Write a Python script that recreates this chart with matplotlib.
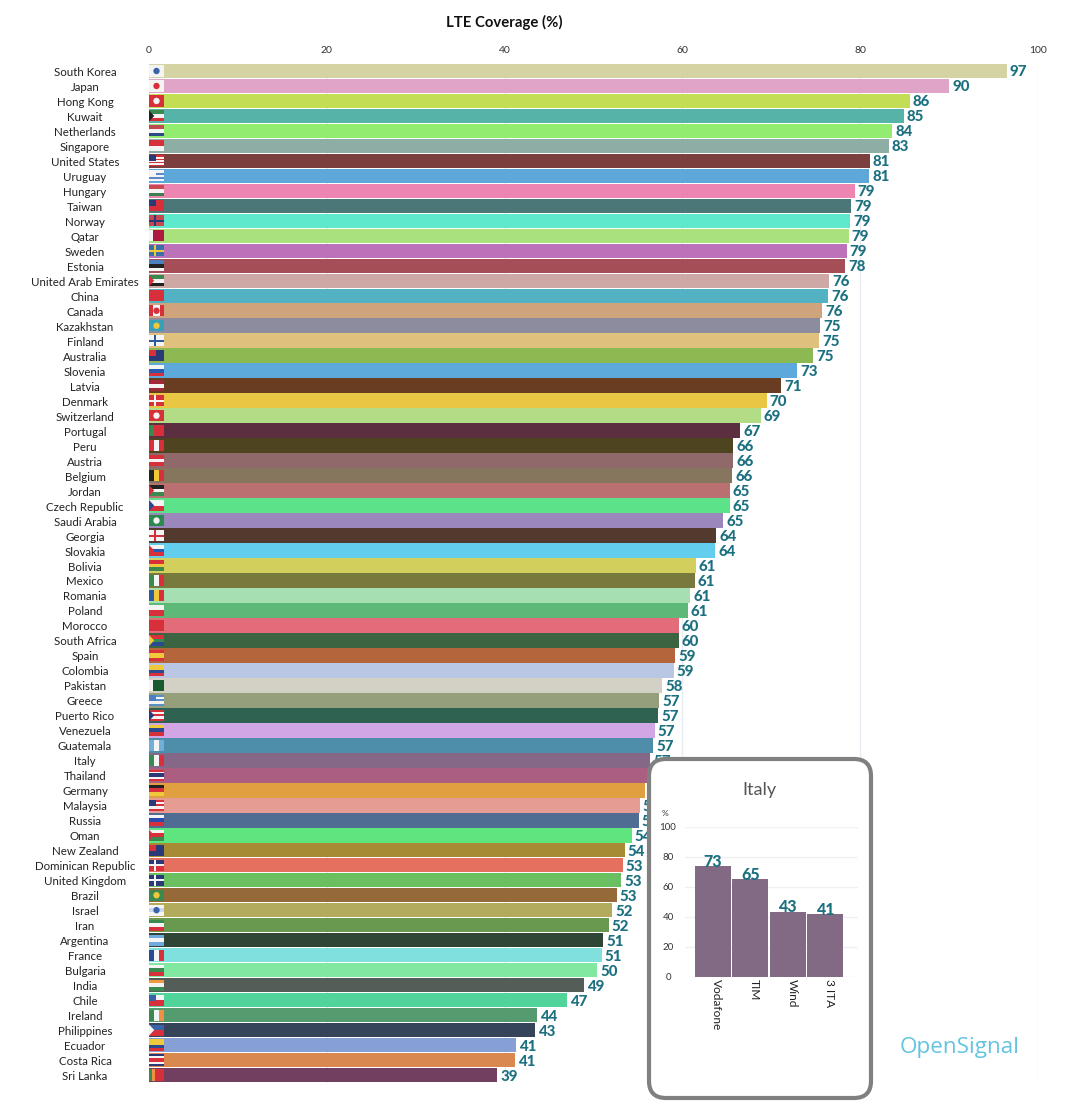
import matplotlib
matplotlib.use('Agg')
import matplotlib.pyplot as plt
from matplotlib.patches import Rectangle, FancyBboxPatch, Polygon, Ellipse

plt.rcParams['font.family'] = ['Lato', 'DejaVu Sans']

countries = ["South Korea","Japan","Hong Kong","Kuwait","Netherlands","Singapore","United States","Uruguay","Hungary","Taiwan","Norway","Qatar","Sweden","Estonia","United Arab Emirates","China","Canada","Kazakhstan","Finland","Australia","Slovenia","Latvia","Denmark","Switzerland","Portugal","Peru","Austria","Belgium","Jordan","Czech Republic","Saudi Arabia","Georgia","Slovakia","Bolivia","Mexico","Romania","Poland","Morocco","South Africa","Spain","Colombia","Pakistan","Greece","Puerto Rico","Venezuela","Guatemala","Italy","Thailand","Germany","Malaysia","Russia","Oman","New Zealand","Dominican Republic","United Kingdom","Brazil","Israel","Iran","Argentina","France","Bulgaria","India","Chile","Ireland","Philippines","Ecuador","Costa Rica","Sri Lanka"]
coverage = [96.5,90.0,85.6,84.9,83.6,83.2,81.1,81.0,79.4,79.0,78.9,78.7,78.5,78.3,76.5,76.4,75.7,75.5,75.4,74.7,72.9,71.1,69.5,68.8,66.5,65.7,65.7,65.6,65.3,65.3,64.6,63.8,63.7,61.5,61.4,60.9,60.6,59.6,59.6,59.2,59.0,57.7,57.4,57.3,56.9,56.7,56.4,56.1,55.8,55.2,55.1,54.3,53.5,53.3,53.1,52.6,52.1,51.7,51.1,50.9,50.4,48.9,47.0,43.7,43.4,41.3,41.2,39.2]
shown = [97,90,86,85,84,83,81,81,79,79,79,79,79,78,76,76,76,75,75,75,73,71,70,69,67,66,66,66,65,65,65,64,64,61,61,61,61,60,60,59,59,58,57,57,57,57,57,56,56,55,55,54,54,53,53,53,52,52,51,51,50,49,47,44,43,41,41,39]
bar_colors = ["#d3d3a3","#e0a4c9","#c3dd55","#56b3a8","#92ec6f","#8dada5","#7b3f3d","#5ea8d9","#ec85b0","#4b7778","#5ee9cc","#a9e27d","#bc72b8","#a64e58","#cda8a4","#53b1c4","#cfa37b","#8c8c9e","#e0c07d","#8cb951","#5ea9dc","#683d22","#e9c744","#b2dc85","#5b2f3f","#4f4420","#906a6a","#85765d","#ba7070","#5ce38a","#9b87bb","#523a2e","#62cdec","#d3cf5c","#777a3c","#a6e0b2","#5eb877","#e36c7a","#3d6440","#b4653c","#b9c6e4","#d3d1c6","#959f7c","#2f6250","#d2a5e5","#4f8eab","#856888","#ac5e80","#e0a040","#e59c93","#4f6d93","#5fe57f","#a68b34","#e57060","#6abf60","#966a38","#b2ab5c","#68994f","#2f4535","#80e0de","#80e8a0","#555d58","#50d49a","#549b6f","#36445a","#86a0d6","#d98850","#714060"]

# flag: (direction, stripes, overlay)
R, W, B, G, Y, K, N = "#d8303a", "#f4f4f4", "#3a62a8", "#3a8a50", "#f0c83c", "#222222", "#2a3a78"
flags = {
 "South Korea":("h",[W],("dot",B)),"Japan":("h",[W],("dot",R)),"Hong Kong":("h",[R],("dot",W)),
 "Kuwait":("h",[G,W,R],("hoist",K)),"Netherlands":("h",["#c04a50",W,"#2a4a88"],None),"Singapore":("h",[R,W],None),
 "United States":("h",[R,W,R,W,R,W,R],("canton",N)),"Uruguay":("h",[W,"#5a88c8",W,"#5a88c8",W],("canton",W)),
 "Hungary":("h",["#c94a50",W,"#3a8050"],None),"Taiwan":("h",[R],("canton",N)),"Norway":("h",["#c8464e"],("cross",N)),
 "Qatar":("v",[W,"#b01840","#b01840","#b01840"],None),"Sweden":("h",["#3a70a8"],("cross",Y)),"Estonia":("h",["#4a80c0",K,W],None),
 "United Arab Emirates":("h",[G,W,K],("hoist",R)),"China":("h",[R],None),"Canada":("v",[R,W,W,R],("dot",R)),
 "Kazakhstan":("h",["#35a0b8"],("dot",Y)),"Finland":("h",[W],("cross","#2a5a9a")),"Australia":("h",[N],("canton",R)),
 "Slovenia":("h",[W,"#2a5ab0",R],None),"Latvia":("h",["#a02838",W,"#a02838"],None),"Denmark":("h",[R],("cross",W)),"Switzerland":("h",[R],("dot",W)),
 "Portugal":("v",[G,R,R],None),"Peru":("v",[R,W,R],None),"Austria":("h",[R,W,R],None),"Belgium":("v",[K,Y,R],None),
 "Jordan":("h",[K,W,G],("hoist",R)),"Czech Republic":("h",[W,R],("hoist","#2a4a90")),"Saudi Arabia":("h",["#2a8a50"],("dot",W)),
 "Georgia":("h",[W],("cross",R)),"Slovakia":("h",[W,"#2a5ab0",R],("hoist",R)),"Bolivia":("h",[R,Y,G],None),
 "Mexico":("v",[G,W,R],None),"Romania":("v",["#2a5aa0",Y,R],None),"Poland":("h",[W,R],None),"Morocco":("h",[R],None),
 "South Africa":("h",[R,G,"#2a4a90"],("hoist",Y)),"Spain":("h",[R,Y,Y,R],None),"Colombia":("h",[Y,Y,"#2a4a90",R],None),
 "Pakistan":("v",[W,"#1a5a30","#1a5a30","#1a5a30"],None),"Greece":("h",["#5a90c8",W,"#5a90c8",W,"#5a90c8"],("canton","#4a80c0")),
 "Puerto Rico":("h",[R,W,R,W,R],("hoist",N)),"Venezuela":("h",[Y,"#2a4a90",R],None),"Guatemala":("v",["#70b0d8",W,"#70b0d8"],None),
 "Italy":("v",[G,W,R],None),"Thailand":("h",[R,W,N,N,W,R],None),"Germany":("h",[K,R,Y],None),
 "Malaysia":("h",[R,W,R,W,R],("canton",N)),"Russia":("h",[W,"#2a4ab0",R],None),"Oman":("h",[W,R,G],("hoist",R)),
 "New Zealand":("h",[N],("canton",R)),"Dominican Republic":("h",[N,R],("cross",W)),"United Kingdom":("h",[N],("cross",W)),
 "Brazil":("h",[G],("dot",Y)),"Israel":("h",[W,"#c8d8f0",W],("dot","#3a62a8")),"Iran":("h",[G,W,R],None),
 "Argentina":("h",["#70a8e0",W,"#70a8e0"],None),"France":("v",["#2a4a90",W,R],None),"Bulgaria":("h",[W,G,R],None),
 "India":("h",["#f09a40",W,G],None),"Chile":("h",[W,R],("canton",B)),"Ireland":("v",[G,W,"#f09040"],None),
 "Philippines":("h",[B,R],("hoist",W)),"Ecuador":("h",[Y,Y,"#2a4a90",R],None),"Costa Rica":("h",[N,W,R,R,W,N],None),
 "Sri Lanka":("v",["#3a8a50","#f09040",R,R,R],None),
}

ticks = [0,20,40,60,80,100]
operators = ["Vodafone","TIM","Wind","3 ITA"]
italy_values = [74,65.5,43.5,42]
italy_shown = [73,65,43,41]
inset_ticks = [0,20,40,60,80,100]

W_PX, H_PX = 1068, 1110
fig = plt.figure(figsize=(W_PX/100, H_PX/100), dpi=100, facecolor='white')
def box(l, t, r, b):
    return [l/W_PX, 1-b/H_PX, (r-l)/W_PX, (b-t)/H_PX]

TOP, BOT = 63.5, 1082.5
ax = fig.add_axes(box(149, TOP, 1038, BOT))
n = len(countries)
ax.set_xlim(0, 100)
ax.set_ylim(n-0.5, -0.5)
ax.set_axisbelow(True)
ax.barh(range(n), coverage, height=0.97, color=bar_colors, zorder=2)
for s in ax.spines.values():
    s.set_visible(False)
ax.xaxis.tick_top()
ax.set_xticks(ticks)
ax.tick_params(axis='x', length=0, pad=6, labelsize=7.5, labelcolor='#333333')
ax.xaxis.grid(True, color='#e8ebf2', lw=1)
ax.set_yticks(range(n))
ax.set_yticklabels([])
ax.tick_params(axis='y', length=0)
px = 100/889
row_px = (BOT-TOP)/n
for i, (c, v, s) in enumerate(zip(countries, coverage, shown)):
    ax.text(-64*px, i+1.5/row_px, c, ha='center', va='center', fontsize=8.25, color='#222222', zorder=3)
    ax.text(v+3*px, i+1.5/row_px, str(s), ha='left', va='center', fontsize=10.8, fontweight='black', color='#1c7080', zorder=3)

def flag(i, spec):
    d, st, ov = spec
    fw, fh = 15*px, 0.74
    x0, y0 = 0, i-fh/2
    m = len(st)
    for k, col in enumerate(st):
        if d == 'h':
            r = Rectangle((x0, y0+k*fh/m), fw, fh/m, fc=col, lw=0, zorder=3)
        else:
            r = Rectangle((x0+k*fw/m, y0), fw/m, fh, fc=col, lw=0, zorder=3)
        ax.add_patch(r)
    if ov:
        kind, col = ov
        if kind == 'canton':
            ax.add_patch(Rectangle((x0, y0), fw*0.45, fh*0.55, fc=col, lw=0, zorder=4))
        elif kind == 'hoist':
            ax.add_patch(Polygon([(x0, y0), (x0+fw*0.35, i), (x0, y0+fh)], fc=col, lw=0, zorder=4))
        elif kind == 'dot':
            ax.add_patch(Ellipse((x0+fw*0.5, i), fw*0.42, fh*0.58, fc=col, lw=0, zorder=4))
        elif kind == 'cross':
            ax.add_patch(Rectangle((x0+fw*0.32, y0), fw*0.16, fh, fc=col, lw=0, zorder=4))
            ax.add_patch(Rectangle((x0, i-fh*0.09), fw, fh*0.18, fc=col, lw=0, zorder=4))

for i, c in enumerate(countries):
    flag(i, flags[c])

# Overlay in pixel coordinates
ov = fig.add_axes([0, 0, 1, 1], zorder=5)
ov.set_xlim(0, W_PX)
ov.set_ylim(H_PX, 0)
ov.axis('off')
ov.patch.set_alpha(0)
ov.text(504, 22, "LTE Coverage (%)", ha='center', va='center', fontsize=10.7, fontweight='bold', color='#111111')
ov.text(960, 1047, "OpenSignal", ha='center', va='center', fontsize=16.2, family='Open Sans', fontweight='normal', color='#62c4e0')
ov.add_patch(FancyBboxPatch((649, 759), 222, 339, boxstyle='round,pad=0,rounding_size=17',
                            fc='white', ec='#808080', lw=3, zorder=1))
ov.text(759, 790, "Italy", ha='center', va='center', fontsize=13, fontweight='normal', color='#555555', zorder=2)
ov.text(665, 813, "%", ha='center', va='center', fontsize=6, color='#333333', zorder=2)

# Inset
ia = fig.add_axes(box(685, 827, 858, 977), zorder=6)
ia.patch.set_alpha(0)
ia.set_ylim(0, 100)
BW = 37.5
ia.set_xlim((685-694)/BW-0.5, (858-694)/BW-0.5)
ia.set_axisbelow(True)
ia.bar(range(4), italy_values, width=0.97, color='#836a84', zorder=2)
for s in ia.spines.values():
    s.set_visible(False)
ia.yaxis.grid(True, color='#f0f0f4', lw=1)
ia.set_yticks(inset_ticks)
ia.set_yticklabels([])
ia.set_xticks(range(4))
ia.set_xticklabels([])
ia.tick_params(length=0)
for t in inset_ticks:
    ia.text(-17/173, t, str(t), transform=ia.get_yaxis_transform(), ha='center', va='center', fontsize=7, color='#333333')
for i, (o, v, s) in enumerate(zip(operators, italy_values, italy_shown)):
    ia.text(i, v-2.5, str(s), ha='center', va='bottom', fontsize=11.5, fontweight='black', color='#1c7080', zorder=3)
    ia.annotate(o, (i, 0), xytext=(3, -1.5), textcoords='offset points', rotation=270, ha='center', va='top',
                fontsize=8.6, color='#222222', annotation_clip=False)

fig.savefig('out.png', dpi=100)
